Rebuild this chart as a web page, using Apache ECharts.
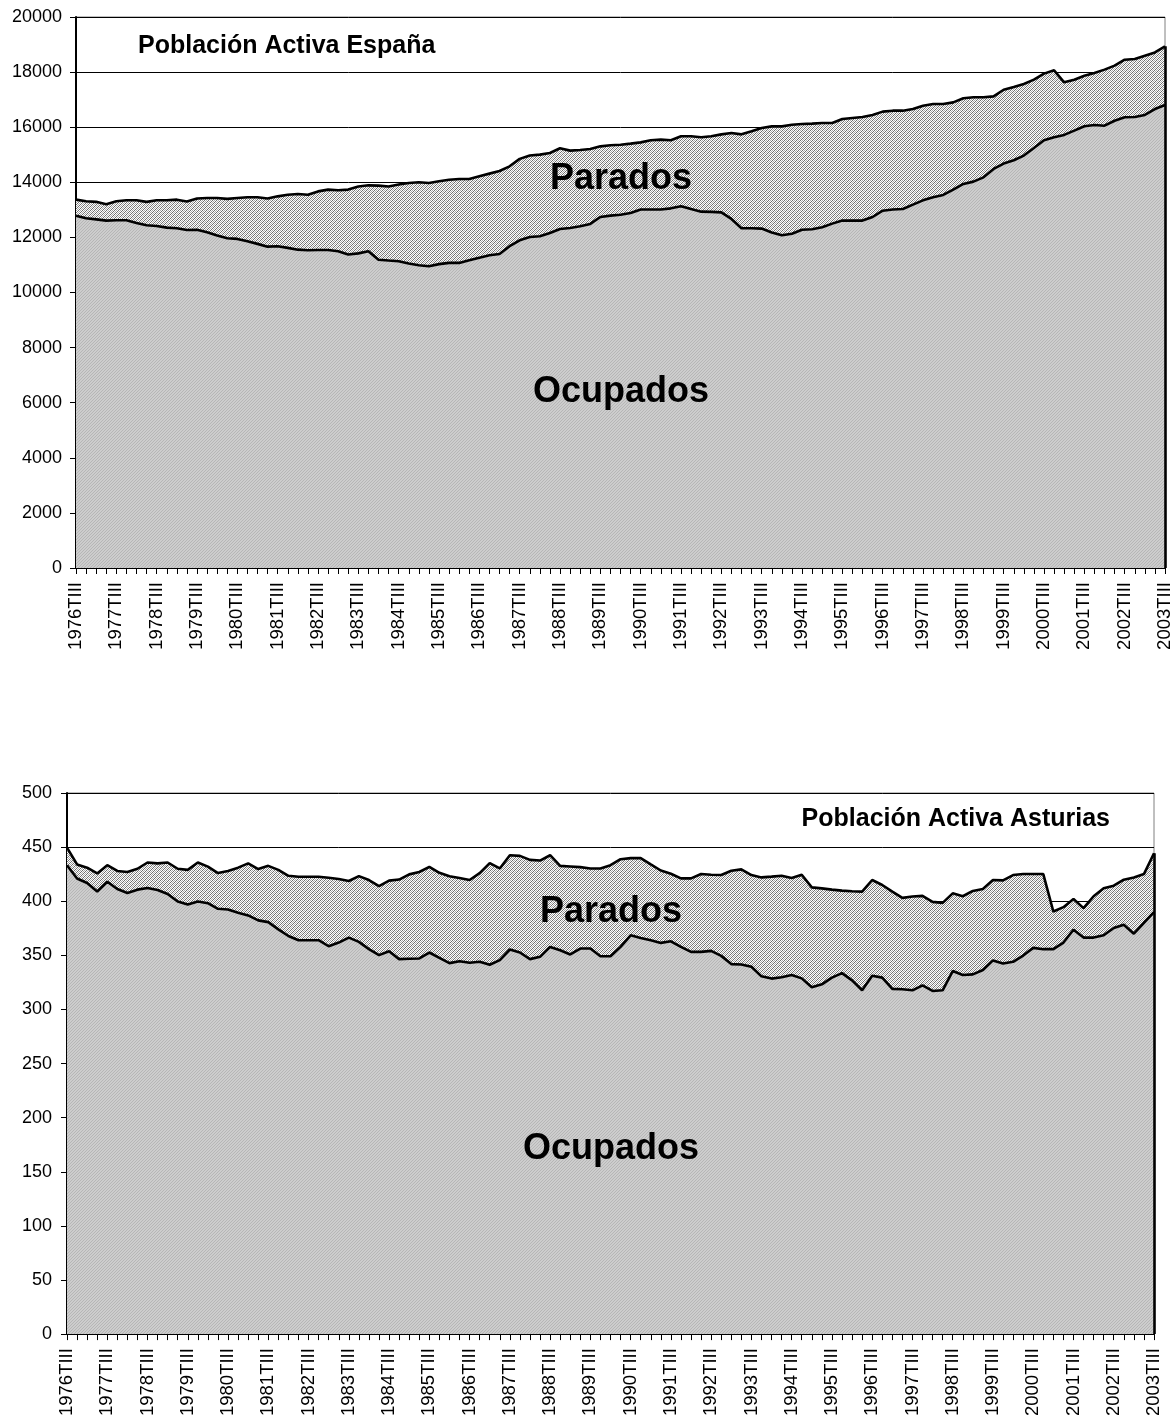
<!DOCTYPE html>
<html>
<head>
<meta charset="utf-8">
<script src="https://cdn.jsdelivr.net/npm/echarts@6/dist/echarts.min.js"></script>
<style>
html,body{margin:0;padding:0;background:#fff;}
#chart{width:1176px;height:1419px;}
</style>
</head>
<body>
<div id="chart"></div>
<script>
// Quarterly categories 1976TIII .. 2003TIII
const categories = [
'1976TIII','1976TIV',
'1977TI','1977TII','1977TIII','1977TIV','1978TI','1978TII','1978TIII','1978TIV',
'1979TI','1979TII','1979TIII','1979TIV','1980TI','1980TII','1980TIII','1980TIV',
'1981TI','1981TII','1981TIII','1981TIV','1982TI','1982TII','1982TIII','1982TIV',
'1983TI','1983TII','1983TIII','1983TIV','1984TI','1984TII','1984TIII','1984TIV',
'1985TI','1985TII','1985TIII','1985TIV','1986TI','1986TII','1986TIII','1986TIV',
'1987TI','1987TII','1987TIII','1987TIV','1988TI','1988TII','1988TIII','1988TIV',
'1989TI','1989TII','1989TIII','1989TIV','1990TI','1990TII','1990TIII','1990TIV',
'1991TI','1991TII','1991TIII','1991TIV','1992TI','1992TII','1992TIII','1992TIV',
'1993TI','1993TII','1993TIII','1993TIV','1994TI','1994TII','1994TIII','1994TIV',
'1995TI','1995TII','1995TIII','1995TIV','1996TI','1996TII','1996TIII','1996TIV',
'1997TI','1997TII','1997TIII','1997TIV','1998TI','1998TII','1998TIII','1998TIV',
'1999TI','1999TII','1999TIII','1999TIV','2000TI','2000TII','2000TIII','2000TIV',
'2001TI','2001TII','2001TIII','2001TIV','2002TI','2002TII','2002TIII','2002TIV',
'2003TI','2003TII','2003TIII'
];

// España: población activa (total) y ocupados, miles
const espanaActivos = [
13370,13310,13290,13200,13310,13350,13350,13290,13350,13350,
13370,13300,13410,13430,13430,13400,13430,13455,13455,13410,
13490,13550,13575,13550,13670,13735,13710,13735,13845,13890,
13880,13850,13920,13975,14000,13975,14035,14095,14120,14120,
14220,14315,14410,14580,14850,14970,15005,15065,15235,15150,
15175,15210,15305,15345,15365,15405,15450,15525,15550,15525,
15670,15670,15635,15670,15740,15790,15740,15850,15970,16030,
16030,16090,16115,16130,16150,16150,16300,16335,16370,16445,
16565,16600,16600,16660,16780,16840,16840,16900,17050,17085,
17085,17120,17360,17460,17570,17725,17945,18065,17630,17725,
17870,17965,18090,18235,18450,18475,18595,18715,18935
];
const espanaOcupados = [
12790,12695,12655,12610,12620,12620,12525,12440,12415,12355,
12330,12270,12280,12185,12065,11970,11945,11860,11765,11665,
11680,11620,11555,11535,11545,11545,11500,11380,11420,11500,
11190,11160,11135,11050,10990,10950,11030,11075,11075,11170,
11265,11350,11400,11680,11895,12015,12040,12160,12305,12340,
12405,12490,12740,12790,12825,12885,13010,13010,13010,13055,
13130,13030,12935,12925,12910,12670,12330,12330,12320,12180,
12075,12135,12280,12295,12365,12500,12610,12610,12610,12740,
12970,13010,13030,13190,13345,13455,13540,13735,13940,14025,
14180,14485,14680,14800,14970,15245,15525,15635,15720,15875,
16035,16080,16055,16235,16360,16370,16445,16660,16805
];

// Asturias: población activa (total) y ocupados, miles
const asturiasActivos = [
449.5,434,431,425.7,433.3,428,427,430,435.8,435,
435.8,430,429,435.8,432,426,428,431,435,429.7,
432.7,429,423.5,422.6,422.6,422.6,421.7,420.5,418.7,423.2,
419.6,414,419,420,424.8,427,431.8,426.3,423,421.4,
419.6,426,435.2,430.3,442.5,441.9,438.2,437.6,442.5,432.7,
432.1,431.5,430.3,430.3,433.3,438.8,439.8,439.8,434,428.4,
425.4,421.1,421.1,425.1,424.5,424.2,428.1,429.4,424.2,422,
422.7,423.5,421.4,424.5,412.8,411.9,410.7,409.8,409.2,408.9,
419.6,415,408.9,403.1,404.3,404.9,399.4,398.5,407.3,404.6,
409.5,411.3,419.6,419.3,424.2,425.1,425.1,425.1,390.5,394.5,
402.1,393.6,404.6,411.9,414.4,419.9,422,425.1,444.3
];
const asturiasOcupados = [
433.3,421,416.8,409,418,411.3,407.6,410.7,412.2,410.4,
406.7,399.7,397,399.7,398.2,393,392.4,389.3,386.9,382.3,
380.7,374,367.9,364,364,364,358.4,361.8,366.4,362.4,
355.7,350.2,353.8,346.5,346.8,347.1,352.6,347.7,342.8,344.6,
343.1,344,341.3,345.6,355.4,352.6,346.5,348.6,357.8,354.7,
350.8,356.3,356.3,349.2,349.2,357.8,368.5,366.1,363.9,361.5,
363,357.8,353.2,353.2,354.1,349.5,341.9,341.6,339.4,330.6,
328.5,329.7,331.8,328.7,320.5,323.2,329.4,333.6,326.9,317.7,
331.2,329.4,319,318.7,317.7,322.3,317.1,317.7,335.5,331.8,
332.4,336.4,345.3,342.5,344,349.8,356.9,355.7,355.7,361.8,
373.7,366.4,366.4,368.5,375.2,378.3,370,380.1,389.9
];

// Texts
const tituloEspana = 'Población Activa España';
const tituloAsturias = 'Población Activa Asturias';
const labelParados = 'Parados';
const labelOcupados = 'Ocupados';

// fill patterns
function makePattern(size, fn) {
  const c = document.createElement('canvas');
  c.width = size; c.height = size;
  const ctx = c.getContext('2d');
  for (let y = 0; y < size; y++) {
    for (let x = 0; x < size; x++) {
      ctx.fillStyle = fn(x, y);
      ctx.fillRect(x, y, 1, 1);
    }
  }
  return c;
}
const paradosPattern = makePattern(4, function (x, y) {
  const k = (x + y) % 4;
  if (k === 0) return '#6e6e6e';
  if (k === 2) return '#a8a8a8';
  return '#ffffff';
});
const ocupadosPattern = makePattern(3, function (x, y) {
  return ((x + y) % 3 === 0) ? '#b6b6b6' : '#cdcdcd';
});

const FONT = "'Liberation Sans', Arial, sans-serif";

function xAxisCfg(gridIndex) {
  return {
    type: 'category', gridIndex: gridIndex, data: categories, boundaryGap: false,
    axisLine: { show: true, lineStyle: { color: '#000', width: 2 } },
    axisTick: { show: true, interval: 0, length: 6, lineStyle: { color: '#000', width: 1 } },
    axisLabel: { interval: 3, rotate: 90, margin: 14, color: '#000', fontSize: 18.5, fontFamily: FONT },
    splitLine: { show: false }
  };
}
function yAxisCfg(gridIndex, max, interval, margin) {
  return {
    type: 'value', gridIndex: gridIndex, min: 0, max: max, interval: interval,
    axisLine: { show: true, lineStyle: { color: '#000', width: 2 } },
    axisTick: { show: true, length: 6, lineStyle: { color: '#000', width: 1 } },
    axisLabel: { margin: margin, color: '#000', fontSize: 18, fontFamily: FONT,
      formatter: function (v) { return String(v); } },
    splitLine: { show: true, lineStyle: { color: '#000', width: 1 } }
  };
}
function seriesPair(idx, activos, ocupados, lastCat) {
  return [
    {
      name: labelParados, type: 'line', xAxisIndex: idx, yAxisIndex: idx,
      data: activos, symbol: 'none', smooth: false,
      lineStyle: { color: '#000', width: 2.6 },
      areaStyle: { color: { image: paradosPattern, repeat: 'repeat' }, opacity: 1 },
      markLine: {
        silent: true, symbol: 'none', label: { show: false },
        lineStyle: { color: '#000', width: 2.6, type: 'solid' },
        data: [[{ coord: [lastCat, 0] }, { coord: [lastCat, activos[activos.length - 1]] }]]
      },
      z: 2
    },
    {
      name: labelOcupados, type: 'line', xAxisIndex: idx, yAxisIndex: idx,
      data: ocupados, symbol: 'none', smooth: false,
      lineStyle: { color: '#000', width: 2.6 },
      areaStyle: { color: { image: ocupadosPattern, repeat: 'repeat' }, opacity: 1 },
      z: 3
    }
  ];
}

const chart = echarts.init(document.getElementById('chart'), null, { renderer: 'canvas' });
const lastCat = categories[categories.length - 1];
chart.setOption({
  animation: false,
  backgroundColor: '#fff',
  textStyle: { fontFamily: FONT },
  grid: [
    { left: 76, right: 11, top: 17, height: 551, show: true, borderColor: '#808080', borderWidth: 1, backgroundColor: '#fff' },
    { left: 67, right: 22, top: 793, height: 545, show: true, borderColor: '#808080', borderWidth: 1, backgroundColor: '#fff' }
  ],
  xAxis: [xAxisCfg(0), xAxisCfg(1)],
  yAxis: [yAxisCfg(0, 20000, 2000, 14), yAxisCfg(1, 500, 50, 15)],
  series: seriesPair(0, espanaActivos, espanaOcupados, lastCat)
    .concat(seriesPair(1, asturiasActivos, asturiasOcupados, lastCat)),
  graphic: [
    { type: 'text', left: 138, top: 34, z: 100, style: { text: tituloEspana, font: "bold 25px " + FONT, fill: '#000' } },
    { type: 'text', x: 621, y: 179, z: 100, style: { text: labelParados, font: "bold 36px " + FONT, fill: '#000', textAlign: 'center', textVerticalAlign: 'middle' } },
    { type: 'text', x: 621, y: 392, z: 100, style: { text: labelOcupados, font: "bold 36px " + FONT, fill: '#000', textAlign: 'center', textVerticalAlign: 'middle' } },
    { type: 'text', right: 66, top: 807, z: 100, style: { text: tituloAsturias, font: "bold 25px " + FONT, fill: '#000' } },
    { type: 'text', x: 611, y: 912, z: 100, style: { text: labelParados, font: "bold 36px " + FONT, fill: '#000', textAlign: 'center', textVerticalAlign: 'middle' } },
    { type: 'text', x: 611, y: 1149, z: 100, style: { text: labelOcupados, font: "bold 36px " + FONT, fill: '#000', textAlign: 'center', textVerticalAlign: 'middle' } }
  ]
});
</script>
</body>
</html>
